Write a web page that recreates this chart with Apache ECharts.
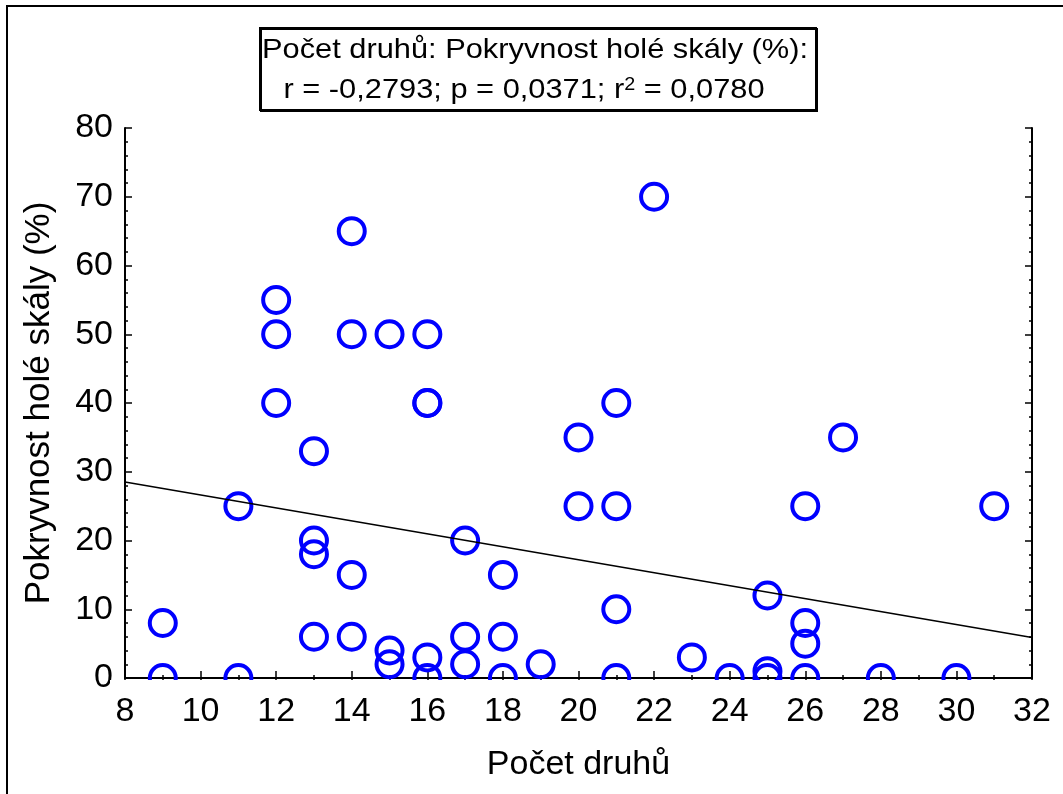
<!DOCTYPE html>
<html>
<head>
<meta charset="utf-8">
<script src="https://cdn.jsdelivr.net/npm/echarts@6/dist/echarts.min.js"></script>
<style>
  html, body { margin: 0; padding: 0; background: #fff; }
  #chart { width: 1063px; height: 794px; }
</style>
</head>
<body>
<div id="chart"></div>
<script>
// Počet druhů (x) a pokryvnost holé skály v % (y)
var speciesCount = [9, 9, 11, 11, 12, 12, 12, 13, 13, 13, 13, 14, 14, 14, 14, 15, 15, 15,
    16, 16, 16, 16, 16, 17, 17, 17, 18, 18, 18, 19, 20, 20, 21, 21, 21, 21, 22, 23, 24,
    25, 25, 25, 26, 26, 26, 26, 27, 28, 30, 31]
var rockCover = [8, 0, 25, 0, 55, 50, 40, 33, 20, 18, 6, 65, 50, 15, 6, 50, 4, 2,
    50, 40, 40, 3, 0, 20, 6, 2, 15, 6, 0, 2, 35, 25, 40, 25, 10, 0, 70, 3, 0,
    12, 1, 0, 25, 8, 5, 0, 35, 0, 0, 25]
// regresní přímka (konce při x = 8 a x = 32)
var fitX = [8, 32]
var fitY = [28.5, 5.9]

var titleLine1 = 'Počet druhů: Pokryvnost holé skály (%):'
var font = 'Liberation Sans, Arial, sans-serif'

var points = speciesCount.map(function (x, i) { return [x, rockCover[i]] })
var fitLine = fitX.map(function (x, i) { return [x, fitY[i]] })

var myChart = echarts.init(document.getElementById('chart'))

var axisBase = {
    type: 'value',
    axisLine: { show: true, lineStyle: { color: '#000', width: 2 } },
    axisTick: { show: true, inside: true, length: 7, lineStyle: { color: '#000', width: 1.5 } },
    minorTick: { show: true, length: 3, lineStyle: { color: '#000', width: 1.5 } },
    splitLine: { show: false },
    minorSplitLine: { show: false }
}

function xAxis(pos, labels) {
    return Object.assign({}, axisBase, {
        position: pos,
        min: 8, max: 32, interval: 2,
        minorTick: Object.assign({}, axisBase.minorTick, { splitNumber: 2 }),
        axisLabel: { show: labels, color: '#000', fontSize: 34, fontFamily: font, margin: 17 },
        name: labels ? 'Počet druhů' : '',
        nameLocation: 'middle',
        nameGap: 70,
        nameTextStyle: { color: '#000', fontSize: 34, fontFamily: font }
    })
}

function yAxis(pos, labels) {
    return Object.assign({}, axisBase, {
        position: pos,
        min: 0, max: 80, interval: 10,
        minorTick: Object.assign({}, axisBase.minorTick, { splitNumber: 5 }),
        axisLabel: { show: labels, color: '#000', fontSize: 34, fontFamily: font, margin: 12 },
        name: labels ? 'Pokryvnost holé skály (%)' : '',
        nameLocation: 'middle',
        nameGap: 68,
        nameTextStyle: { color: '#000', fontSize: 35, fontFamily: font }
    })
}

myChart.setOption({
    backgroundColor: '#fff',
    animation: false,
    grid: { left: 125, top: 128, width: 907, height: 550 },
    xAxis: [xAxis('bottom', true), xAxis('top', false)],
    yAxis: [yAxis('left', true), yAxis('right', false)],
    series: [
        {
            type: 'line',
            data: fitLine,
            symbol: 'none',
            lineStyle: { color: '#000', width: 1.5 },
            z: 3
        },
        {
            type: 'scatter',
            data: points,
            symbol: 'circle',
            symbolSize: 26,
            itemStyle: { color: 'rgba(0,0,0,0)', borderColor: '#0000ff', borderWidth: 4, opacity: 1 },
            z: 2
        }
    ],
    graphic: [
        // vnější rámeček
        {
            type: 'rect', z: 100,
            shape: { x: 7, y: 6, width: 1100, height: 900 },
            style: { fill: 'none', stroke: '#000', lineWidth: 2 }
        },
        // zakrytí kroužků pod osou x
        {
            type: 'rect', z: 100,
            shape: { x: 110, y: 680, width: 940, height: 15 },
            style: { fill: '#fff' }
        },
        // rámeček s korelací
        {
            type: 'rect', z: 100,
            shape: { x: 260, y: 28, width: 556, height: 82 },
            style: { fill: '#fff', stroke: '#000', lineWidth: 2, shadowColor: '#000', shadowOffsetX: 1, shadowOffsetY: 1 }
        },
        {
            type: 'text', z: 101,
            x: 535, y: 50, scaleX: 1.1,
            style: {
                text: titleLine1,
                font: '28px ' + font,
                fill: '#000',
                textAlign: 'center',
                textVerticalAlign: 'middle'
            }
        },
        {
            type: 'text', z: 101,
            x: 524, y: 90, scaleX: 1.1,
            style: {
                text: '{a|r = -0,2793; p = 0,0371; r}{s|2}{a| = 0,0780}',
                fill: '#000',
                textAlign: 'center',
                textVerticalAlign: 'middle',
                rich: {
                    a: { fontSize: 28, fontFamily: font, fill: '#000' },
                    s: { fontSize: 18, fontFamily: font, fill: '#000', verticalAlign: 'top' }
                }
            }
        }
    ]
})
window.onresize = myChart.resize
</script>
</body>
</html>
